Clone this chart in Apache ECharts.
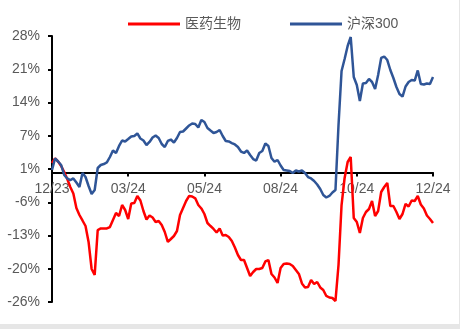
<!DOCTYPE html>
<html>
<head>
<meta charset="utf-8">
<script src="https://cdn.jsdelivr.net/npm/echarts@6/dist/echarts.min.js"></script>
<style>
html,body{margin:0;padding:0;background:#e6e6e6;}
#c{width:459px;height:324px;background:#fff;}
</style>
</head>
<body>
<div id="c"></div>
<script>
var seriesNames = ['医药生物', '沪深300'];
var xLabels = ['12/23', '03/24', '05/24', '08/24', '10/24', '12/24'];
var yTickValues = [-26.24, -19.51, -12.78, -6.05, 0.68, 7.41, 14.14, 20.87, 27.6];
var yTickLabels = ['-26%', '-20%', '-13%', '-6%', '1%', '7%', '14%', '21%', '28%'];

var pharma = [1.90,2.81,2.20,1.29,0.07,-1.34,-2.96,-4.28,-7.21,-8.63,
-9.74,-10.86,-14.09,-19.56,-20.77,-11.67,-11.36,-11.36,-11.36,-11.06,
-9.64,-8.23,-8.83,-6.61,-7.62,-9.44,-6.30,-6.20,-4.78,-5.70,
-7.82,-9.54,-8.73,-9.14,-10.05,-9.84,-10.65,-12.07,-14.09,-13.49,
-12.88,-11.87,-8.63,-7.21,-5.80,-4.78,-4.89,-5.25,-6.61,-7.31,
-8.43,-10.25,-10.86,-11.46,-12.17,-11.36,-12.78,-12.68,-13.08,-13.89,
-15.21,-16.73,-17.74,-17.74,-19.36,-20.98,-20.17,-19.56,-19.56,-19.36,
-18.04,-17.74,-20.57,-21.28,-22.39,-19.36,-18.55,-18.45,-18.55,-18.95,
-19.76,-20.57,-22.49,-23.30,-23.20,-21.79,-22.60,-22.19,-23.30,-23.81,
-25.02,-25.33,-25.43,-26.04,-18.75,-6.61,-1.14,2.10,3.11,-9.24,
-10.05,-12.27,-9.24,-8.02,-7.42,-5.80,-8.83,-7.82,-3.97,-2.96,
-2.15,-6.81,-6.81,-8.02,-9.44,-8.43,-6.40,-6.91,-5.70,-5.80,
-4.78,-6.50,-7.31,-8.73,-9.44,-10.25];

var csi300 = [0.48,2.81,2.20,1.49,-0.53,-1.24,-1.55,-1.24,-2.05,-2.96,
-0.13,-0.94,-2.76,-4.38,-3.57,0.88,1.49,1.69,2.00,3.11,
4.43,3.92,5.34,6.45,6.25,6.75,7.26,7.36,7.87,6.85,
6.45,5.54,6.15,7.06,7.46,6.96,5.74,5.13,6.35,6.65,
6.04,6.96,8.17,8.27,8.88,9.49,9.89,9.79,9.08,10.60,
10.19,8.98,8.47,7.97,8.17,8.57,7.36,6.35,6.25,5.94,
5.64,5.13,4.22,3.92,4.43,3.51,2.70,2.40,3.92,4.32,
5.84,5.34,2.91,2.16,2.50,1.39,0.48,0.38,0.28,-0.13,
0.38,0.17,0.38,-0.13,-0.94,-1.24,-1.75,-2.46,-3.37,-4.58,
-5.09,-4.78,-4.08,-3.57,9.59,20.52,22.94,25.58,27.40,19.30,
17.68,14.44,17.99,18.09,18.90,18.29,16.87,19.71,23.15,23.45,
22.74,20.72,19.10,17.28,15.86,15.35,17.38,18.29,18.69,18.59,
20.62,17.88,17.78,17.99,17.88,19.30];

var labelStep = 25;
var categories = pharma.map(function (v, i) { return String(i); });

var font = 'Liberation Sans, Arial, Noto Sans CJK SC, sans-serif';
var chart = echarts.init(document.getElementById('c'), null, {renderer: 'canvas'});
chart.setOption({
  animation: false,
  backgroundColor: '#ffffff',
  legend: {
    top: 12,
    left: 123,
    icon: 'rect',
    itemWidth: 52,
    itemHeight: 3,
    itemGap: 49,
    textStyle: {color: '#595959', fontSize: 14, fontFamily: font}
  },
  grid: {left: 52, right: 26, top: 36, bottom: 22},
  xAxis: {
    type: 'category',
    data: categories,
    boundaryGap: false,
    position: 'bottom',
    offset: -129.6,
    axisLine: {onZero: false, lineStyle: {color: '#000', width: 2}},
    axisTick: {show: true, interval: labelStep - 1, length: 4, lineStyle: {color: '#000', width: 2}},
    axisLabel: {
      interval: labelStep - 1,
      margin: 10,
      color: '#595959',
      fontSize: 14,
      fontFamily: font,
      formatter: function (v, idx) { return xLabels[Math.round(idx / labelStep)]; }
    },
    splitLine: {show: false}
  },
  yAxis: {
    type: 'value',
    min: yTickValues[0],
    max: yTickValues[yTickValues.length - 1],
    axisLine: {show: true, lineStyle: {color: '#000', width: 2}},
    axisTick: {show: true, length: 4, customValues: yTickValues, lineStyle: {color: '#000', width: 2}},
    axisLabel: {
      customValues: yTickValues,
      margin: 12,
      color: '#595959',
      fontSize: 14,
      fontFamily: font,
      formatter: function (v) {
        var best = 0, d = 1e9;
        for (var i = 0; i < yTickValues.length; i++) {
          var dd = Math.abs(yTickValues[i] - v);
          if (dd < d) { d = dd; best = i; }
        }
        return yTickLabels[best];
      }
    },
    splitLine: {show: false}
  },
  series: [
    {name: seriesNames[0], type: 'line', data: pharma, showSymbol: false, symbol: 'none',
     lineStyle: {color: '#FF0000', width: 2.5}, itemStyle: {color: '#FF0000'}},
    {name: seriesNames[1], type: 'line', data: csi300, showSymbol: false, symbol: 'none',
     lineStyle: {color: '#2F5597', width: 2.5}, itemStyle: {color: '#2F5597'}}
  ]
});
</script>
</body>
</html>
